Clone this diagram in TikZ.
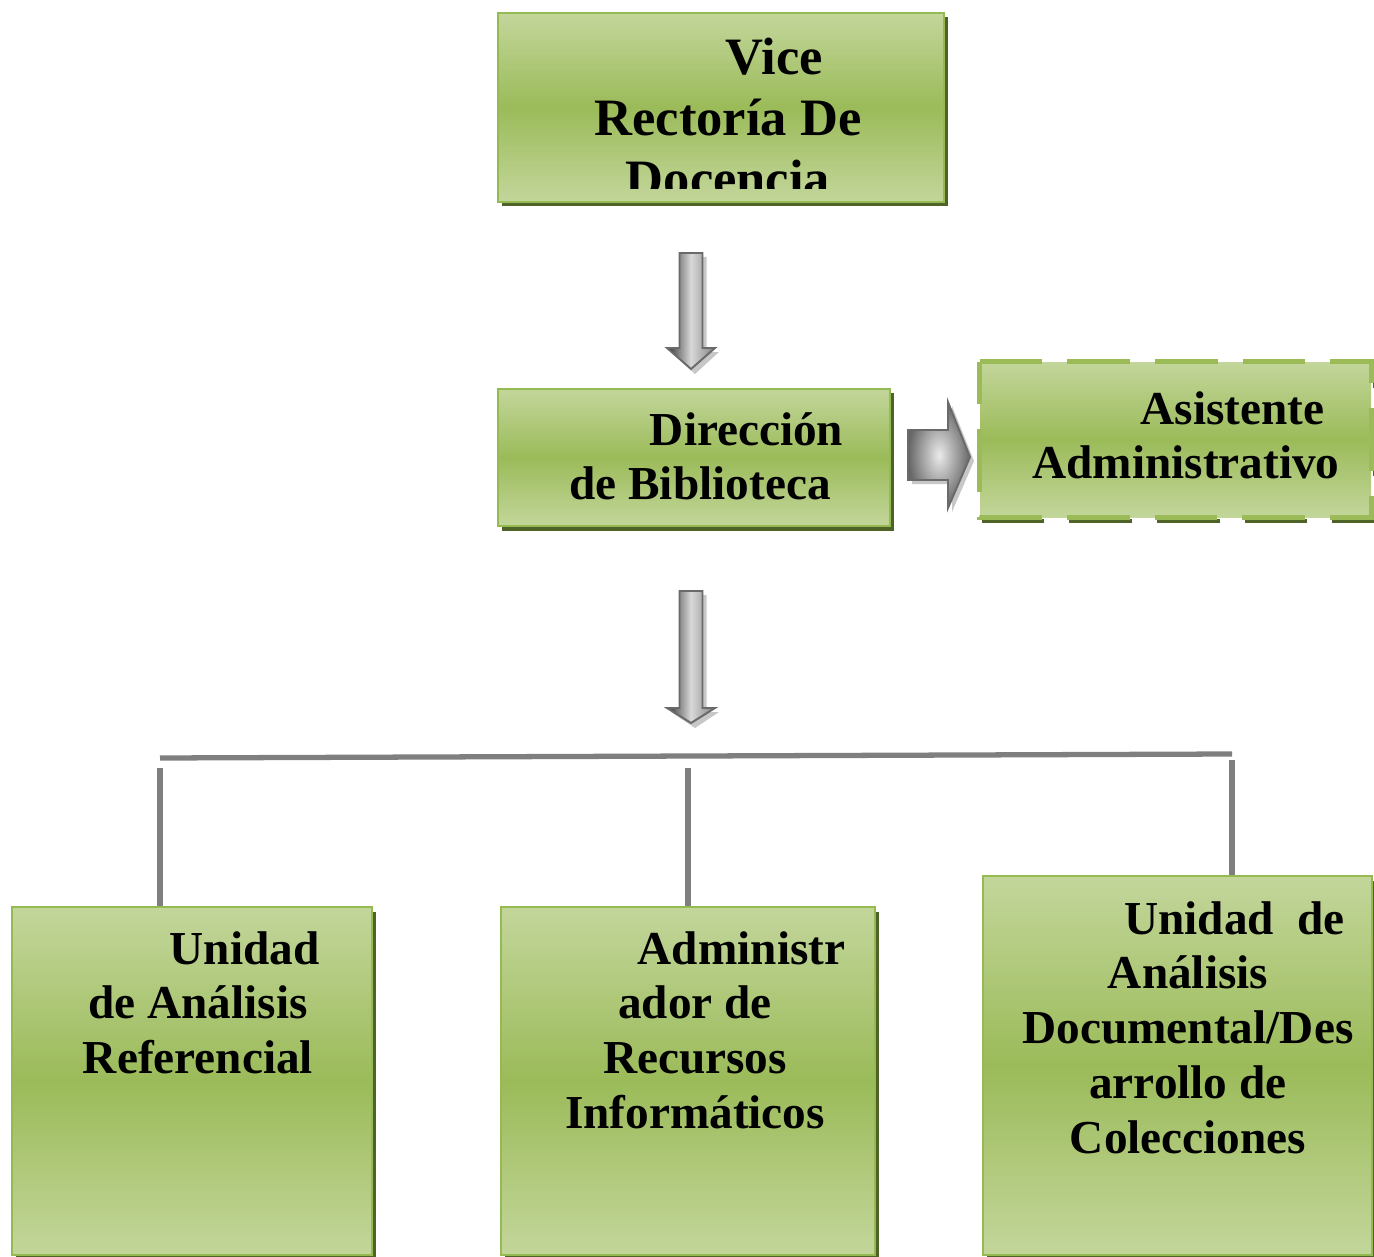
\documentclass[tikz,border=0pt]{standalone}
\usepackage{fontspec}
\setmainfont{Liberation Serif}
\usetikzlibrary{fit,shadows}

\definecolor{lgreen}{HTML}{C3D69B}
\definecolor{mgreen}{HTML}{9BBB59}
\definecolor{edgegreen}{HTML}{96BA52}
\definecolor{olive}{HTML}{4F6228}
\definecolor{linegray}{HTML}{7F7F7F}
\definecolor{arrowedge}{HTML}{6A6A6A}

\tikzset{
  greenfill/.style={inner sep=0pt, top color=lgreen, bottom color=lgreen, middle color=mgreen},
  gbox/.style={greenfill, draw=edgegreen, line width=1.2pt,
    general shadow={fill=olive, shadow xshift=0.08cm, shadow yshift=-0.09cm}},
  boxtext/.style={anchor=base, inner sep=0pt, font=\bfseries\fontsize{26.9}{31.2}\selectfont},
  bigtext/.style={anchor=base, inner sep=0pt, font=\bfseries\fontsize{29.9}{34.6}\selectfont},
  bus/.style={draw=linegray, line width=3pt},
  dashedge/.style={line width=2.8pt, dash pattern=on 35.7pt off 14.2pt},
  arrowbody/.style={draw=arrowedge, line width=1.1pt, line join=miter},
  arrowshade/.style={fill=black!22},
}

% vertical block arrow: x, top, shoulder, tip
\newcommand\vblockarrow[4]{%
  \fill[arrowshade] (#1-11.5+4,#2+4) -- (#1+11.5+4,#2+4) -- (#1+11.5+4,#3+4) -- (#1+24+4,#3+4)
    -- (#1+4,#4+5) -- (#1-24+4,#3+4) -- (#1-11.5+4,#3+4) -- cycle;
  \path[arrowbody, left color=black!80, right color=black!50, middle color=black!15]
    (#1-11.5,#2) -- (#1+11.5,#2) -- (#1+11.5,#3) -- (#1+24,#3)
    -- (#1,#4) -- (#1-24,#3) -- (#1-11.5,#3) -- cycle;
}

\begin{document}
\begin{tikzpicture}[x=0.02cm,y=-0.02cm]
\clip (0,0) rectangle (1374,1257);

% --- Vice Rectoría ---
\node[gbox, fit={(498,13) (944,202)}] (vice) {};
\begin{scope}
  \clip (498,13) rectangle (944,189);
  \node[bigtext] (vicetext) at (728,75)
    {\begin{tabular}[t]{@{}c@{}}\hspace*{53pt}Vice\\Rectoría De\\Docencia\end{tabular}};
\end{scope}

% --- arrow down to Dirección ---
\vblockarrow{691}{253}{348}{369}

% --- Dirección de Biblioteca ---
\node[gbox, fit={(498,389) (890,526)}] (dir) {};
\node[boxtext] (dirtext) at (700,445)
  {\begin{tabular}[t]{@{}c@{}}\hspace*{53pt}Dirección\\de Biblioteca\end{tabular}};

% --- arrow right to Asistente ---
\fill[arrowshade] (912,434) -- (952,434) -- (952,406) -- (974,461) -- (952,512) -- (952,484) -- (912,484) -- cycle;
\path[arrowbody, inner color=black!8, outer color=black!60]
  (908,430) -- (948,430) -- (948,402) -- (970,457) -- (948,508) -- (948,480) -- (908,480) -- cycle;

% --- Asistente Administrativo (dashed) ---
\draw[dashedge, draw=olive] (984,366) -- (1375,366) -- (1375,521) -- (984,521) -- cycle;
\node[greenfill, fit={(980,362) (1371,517)}] (asis) {};
\draw[dashedge, draw=mgreen] (asis.north west) -- (asis.north east) -- (asis.south east) -- (asis.south west) -- cycle;
\node[boxtext] (asistext) at (1186,424)
  {\begin{tabular}[t]{@{}c@{}}\hspace*{53pt}Asistente\\Administrativo\end{tabular}};

% --- arrow down to the units ---
\vblockarrow{691}{591}{708}{723}

% --- unit boxes ---
\node[gbox, fit={(12,907) (372,1255)}] (left) {};
\node[gbox, fit={(501,907) (875,1255)}] (mid) {};
\node[gbox, fit={(983,876) (1372,1255)}] (right) {};

% --- connector bus ---
\coordinate (busL) at (160,758);
\coordinate (busR) at (1232,754);
\draw[bus] (busL) -- (busR);
\coordinate (d1) at (160,768);
\coordinate (d2) at (688,768);
\coordinate (d3) at (1232,760);
\draw[bus] (d1) -- (d1 |- left.north);
\draw[bus] (d2) -- (d2 |- mid.north);
\draw[bus] (d3) -- (d3 |- right.north);

\node[boxtext] (lefttext) at (198,964)
  {\begin{tabular}[t]{@{}c@{}}\hspace*{53pt}Unidad\\de Análisis\\Referencial\end{tabular}};
\node[boxtext] (midtext) at (695,964)
  {\begin{tabular}[t]{@{}c@{}}\hspace*{53pt}Administr\\ador de\\Recursos\\Informáticos\end{tabular}};
\node[boxtext] (righttext) at (1188,934)
  {\begin{tabular}[t]{@{}c@{}}\hspace*{53pt}Unidad\ \ de\\Análisis\\Documental/Des\\arrollo de\\Colecciones\end{tabular}};
\end{tikzpicture}
\end{document}
